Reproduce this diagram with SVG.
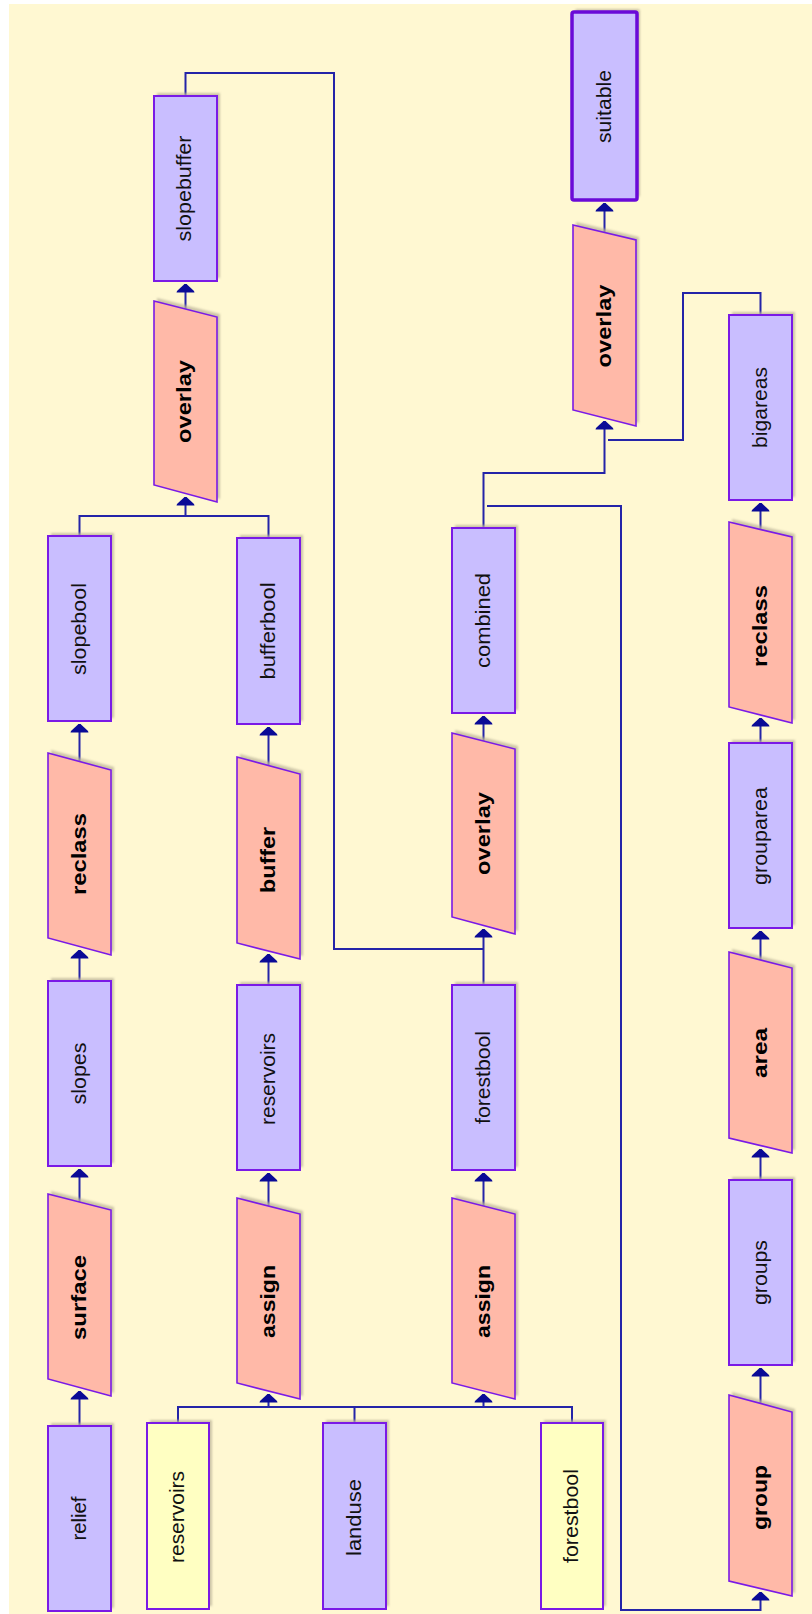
<svg xmlns="http://www.w3.org/2000/svg" width="812" height="1614" viewBox="0 0 812 1614">
<style>
.bg{fill:#FFF8D2}
.data{fill:#C9BEFF;stroke:#7A1AE6;stroke-width:2}
.src{fill:#FFFFC2;stroke:#7A1AE6;stroke-width:2}
.op{fill:#FFB9A8;stroke:#7A1AE6;stroke-width:1.6}
.final{fill:#C9BEFF;stroke:#6A0AD8;stroke-width:3.5}
.sh{fill:#BDB59A;opacity:0.75;filter:url(#blur)}
.t{font-family:"Liberation Sans",Arial,sans-serif;font-size:21px;fill:#111;text-anchor:middle}
.b{font-family:"Liberation Sans",Arial,sans-serif;font-size:20px;font-weight:bold;fill:#000;text-anchor:middle}
.c{fill:none;stroke:#2424A8;stroke-width:2}
</style>
<defs>
<filter id="blur" x="-10%" y="-10%" width="120%" height="120%"><feGaussianBlur stdDeviation="1"/></filter>
<marker id="ah" markerUnits="userSpaceOnUse" markerWidth="10" markerHeight="20" refX="8.5" refY="10" orient="auto" viewBox="0 0 10 20">
<path d="M0,1 L1.5,1.5 L8.5,9 L8.5,11 L1.5,18.5 L0,19 Z" fill="#0A0A96"/>
</marker>
</defs>
<rect class="bg" x="9" y="4" width="803" height="1610"/>

<g id="connectors">
<path class="c" marker-end="url(#ah)" d="M79.5,1426 V1391"/>
<path class="c" marker-end="url(#ah)" d="M79.5,1202 V1169"/>
<path class="c" marker-end="url(#ah)" d="M79.5,981 V950"/>
<path class="c" marker-end="url(#ah)" d="M79.5,761 V724"/>
<path class="c" marker-end="url(#ah)" d="M79.5,536 V516 H185.5 V497"/>
<path class="c" d="M268.5,538 V516 H185.5"/>
<path class="c" marker-end="url(#ah)" d="M185.5,309 V284"/>
<path class="c" d="M185.5,96 V73 H334 V949 H483.5"/>
<path class="c" marker-end="url(#ah)" d="M483.5,985 V929"/>
<path class="c" marker-end="url(#ah)" d="M178,1423 V1407 H268.5 V1394"/>
<path class="c" d="M354.5,1423 V1407 H268.5"/>
<path class="c" marker-end="url(#ah)" d="M354.5,1407 H483.5 V1394"/>
<path class="c" d="M572,1423 V1407 H483.5"/>
<path class="c" marker-end="url(#ah)" d="M268.5,1206 V1173"/>
<path class="c" marker-end="url(#ah)" d="M268.5,985 V954"/>
<path class="c" marker-end="url(#ah)" d="M268.5,765 V727"/>
<path class="c" marker-end="url(#ah)" d="M483.5,1206 V1173"/>
<path class="c" marker-end="url(#ah)" d="M483.5,741 V716"/>
<path class="c" marker-end="url(#ah)" d="M483.5,528 V473 H604.5 V421"/>
<path class="c" d="M760.5,315 V293 H683 V440 H608"/>
<path class="c" marker-end="url(#ah)" d="M487,506 H621 V1610 H760.5 V1592"/>
<path class="c" marker-end="url(#ah)" d="M760.5,1403 V1368"/>
<path class="c" marker-end="url(#ah)" d="M760.5,1180 V1149"/>
<path class="c" marker-end="url(#ah)" d="M760.5,960 V931"/>
<path class="c" marker-end="url(#ah)" d="M760.5,743 V718"/>
<path class="c" marker-end="url(#ah)" d="M760.5,529 V503"/>
<path class="c" marker-end="url(#ah)" d="M604.5,232 V203"/>
</g>

<g id="relief"><rect class="sh" x="51" y="1423" width="63" height="185"/><rect class="data" x="48" y="1426" width="63" height="185"/><text class="t" transform="translate(86,1518.5) rotate(-90)" textLength="44" lengthAdjust="spacingAndGlyphs">relief</text></g>
<g id="surface"><polygon class="sh" points="51,1191 114,1207 114,1393 51,1376"/><polygon class="op" points="48,1194 111,1210 111,1396 48,1379"/><text class="b" transform="translate(86,1297.5) rotate(-90)" textLength="85" lengthAdjust="spacingAndGlyphs">surface</text></g>
<g id="slopes"><rect class="sh" x="51" y="978" width="63" height="185"/><rect class="data" x="48" y="981" width="63" height="185"/><text class="t" transform="translate(86,1073.5) rotate(-90)" textLength="62" lengthAdjust="spacingAndGlyphs">slopes</text></g>
<g id="reclass1"><polygon class="sh" points="51,750 114,767 114,952 51,935"/><polygon class="op" points="48,753 111,770 111,955 48,938"/><text class="b" transform="translate(86,854) rotate(-90)" textLength="82" lengthAdjust="spacingAndGlyphs">reclass</text></g>
<g id="slopebool"><rect class="sh" x="51" y="533" width="63" height="185"/><rect class="data" x="48" y="536" width="63" height="185"/><text class="t" transform="translate(86,629) rotate(-90)" textLength="92" lengthAdjust="spacingAndGlyphs">slopebool</text></g>
<g id="overlay1"><polygon class="sh" points="157,298 220,314 220,499 157,482"/><polygon class="op" points="154,301 217,317 217,502 154,485"/><text class="b" transform="translate(191,401.5) rotate(-90)" textLength="83" lengthAdjust="spacingAndGlyphs">overlay</text></g>
<g id="slopebuffer"><rect class="sh" x="157" y="93" width="63" height="185"/><rect class="data" x="154" y="96" width="63" height="185"/><text class="t" transform="translate(191,188.5) rotate(-90)" textLength="106" lengthAdjust="spacingAndGlyphs">slopebuffer</text></g>
<g id="bufferbool"><rect class="sh" x="240" y="535" width="63" height="186"/><rect class="data" x="237" y="538" width="63" height="186"/><text class="t" transform="translate(274.5,631) rotate(-90)" textLength="97" lengthAdjust="spacingAndGlyphs">bufferbool</text></g>
<g id="buffer"><polygon class="sh" points="240,754 303,771 303,956 240,940"/><polygon class="op" points="237,757 300,774 300,959 237,943"/><text class="b" transform="translate(274.5,860) rotate(-90)" textLength="66" lengthAdjust="spacingAndGlyphs">buffer</text></g>
<g id="reservoirs2"><rect class="sh" x="240" y="982" width="63" height="185"/><rect class="data" x="237" y="985" width="63" height="185"/><text class="t" transform="translate(274.5,1079) rotate(-90)" textLength="92" lengthAdjust="spacingAndGlyphs">reservoirs</text></g>
<g id="assign1"><polygon class="sh" points="240,1195 303,1211 303,1396 240,1380"/><polygon class="op" points="237,1198 300,1214 300,1399 237,1383"/><text class="b" transform="translate(274.5,1301.5) rotate(-90)" textLength="73" lengthAdjust="spacingAndGlyphs">assign</text></g>
<g id="reservoirs"><rect class="sh" x="150" y="1420" width="62" height="186"/><rect class="src" x="147" y="1423" width="62" height="186"/><text class="t" transform="translate(184,1517) rotate(-90)" textLength="92" lengthAdjust="spacingAndGlyphs">reservoirs</text></g>
<g id="landuse"><rect class="sh" x="326" y="1420" width="63" height="186"/><rect class="data" x="323" y="1423" width="63" height="186"/><text class="t" transform="translate(360.5,1517.5) rotate(-90)" textLength="77" lengthAdjust="spacingAndGlyphs">landuse</text></g>
<g id="forestbool"><rect class="sh" x="544" y="1420" width="62" height="186"/><rect class="src" x="541" y="1423" width="62" height="186"/><text class="t" transform="translate(578,1516) rotate(-90)" textLength="94" lengthAdjust="spacingAndGlyphs">forestbool</text></g>
<g id="assign2"><polygon class="sh" points="455,1195 518,1211 518,1396 455,1380"/><polygon class="op" points="452,1198 515,1214 515,1399 452,1383"/><text class="b" transform="translate(489.5,1301.5) rotate(-90)" textLength="73" lengthAdjust="spacingAndGlyphs">assign</text></g>
<g id="forestbool2"><rect class="sh" x="455" y="982" width="63" height="185"/><rect class="data" x="452" y="985" width="63" height="185"/><text class="t" transform="translate(489.5,1077.5) rotate(-90)" textLength="93" lengthAdjust="spacingAndGlyphs">forestbool</text></g>
<g id="overlay2"><polygon class="sh" points="455,730 518,746 518,931 455,914"/><polygon class="op" points="452,733 515,749 515,934 452,917"/><text class="b" transform="translate(489.5,833.5) rotate(-90)" textLength="83" lengthAdjust="spacingAndGlyphs">overlay</text></g>
<g id="combined"><rect class="sh" x="455" y="525" width="63" height="185"/><rect class="data" x="452" y="528" width="63" height="185"/><text class="t" transform="translate(489.5,620.5) rotate(-90)" textLength="95" lengthAdjust="spacingAndGlyphs">combined</text></g>
<g id="overlay3"><polygon class="sh" points="576,222 639,237 639,423 576,407"/><polygon class="op" points="573,225 636,240 636,426 573,410"/><text class="b" transform="translate(610.5,326) rotate(-90)" textLength="83" lengthAdjust="spacingAndGlyphs">overlay</text></g>
<g id="suitable"><rect class="sh" x="575" y="9" width="65" height="188" rx="2"/><rect class="final" x="572" y="12" width="65" height="188" rx="2"/><text class="t" transform="translate(610.5,106.5) rotate(-90)" textLength="73" lengthAdjust="spacingAndGlyphs">suitable</text></g>
<g id="bigareas"><rect class="sh" x="732" y="312" width="63" height="185"/><rect class="data" x="729" y="315" width="63" height="185"/><text class="t" transform="translate(766.5,407.5) rotate(-90)" textLength="81" lengthAdjust="spacingAndGlyphs">bigareas</text></g>
<g id="reclass2"><polygon class="sh" points="732,519 795,534 795,720 732,704"/><polygon class="op" points="729,522 792,537 792,723 729,707"/><text class="b" transform="translate(766.5,626) rotate(-90)" textLength="82" lengthAdjust="spacingAndGlyphs">reclass</text></g>
<g id="grouparea"><rect class="sh" x="732" y="740" width="63" height="185"/><rect class="data" x="729" y="743" width="63" height="185"/><text class="t" transform="translate(766.5,836) rotate(-90)" textLength="98" lengthAdjust="spacingAndGlyphs">grouparea</text></g>
<g id="area"><polygon class="sh" points="732,949 795,965 795,1150 732,1135"/><polygon class="op" points="729,952 792,968 792,1153 729,1138"/><text class="b" transform="translate(766.5,1053) rotate(-90)" textLength="50" lengthAdjust="spacingAndGlyphs">area</text></g>
<g id="groups"><rect class="sh" x="732" y="1177" width="63" height="185"/><rect class="data" x="729" y="1180" width="63" height="185"/><text class="t" transform="translate(766.5,1272.5) rotate(-90)" textLength="65" lengthAdjust="spacingAndGlyphs">groups</text></g>
<g id="group"><polygon class="sh" points="732,1392 795,1409 795,1593 732,1578"/><polygon class="op" points="729,1395 792,1412 792,1596 729,1581"/><text class="b" transform="translate(766.5,1497.5) rotate(-90)" textLength="65" lengthAdjust="spacingAndGlyphs">group</text></g>
</svg>
